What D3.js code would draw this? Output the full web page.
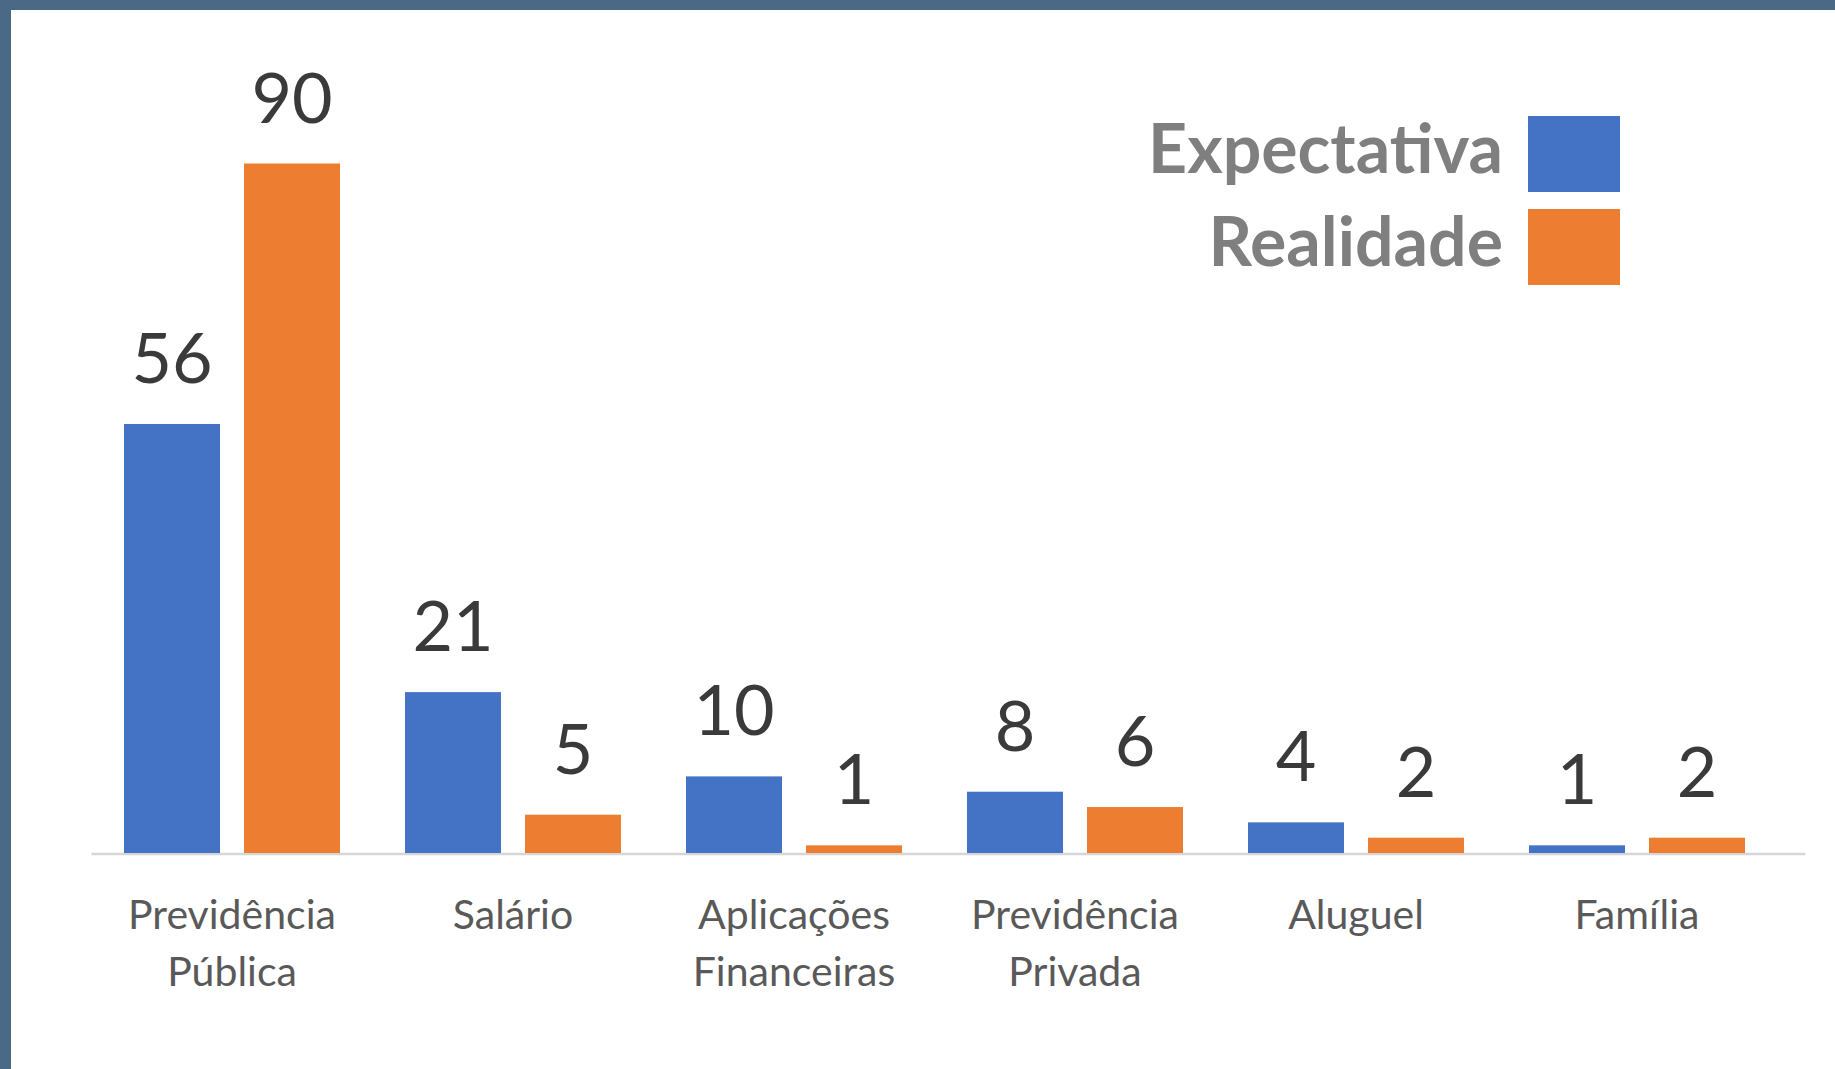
<!DOCTYPE html>
<html>
<head>
<meta charset="utf-8">
<script src="https://cdn.jsdelivr.net/npm/d3@7"></script>
<style>
  html, body { margin: 0; padding: 0; background: #4a6986; overflow: hidden; }
  svg { display: block; }
</style>
</head>
<body>
<svg id="canvas"></svg>
<script>
const categories = [["Previdência", "Pública"], ["Salário"], ["Aplicações", "Financeiras"], ["Previdência", "Privada"], ["Aluguel"], ["Família"]];
const seriesNames = ["Expectativa", "Realidade"];
const expectativa = [56, 21, 10, 8, 4, 1];
const realidade = [90, 5, 1, 6, 2, 2];
const colors = ["#4472C4", "#ED7D31"];

const width = 1835, height = 1069;
const svg = d3.select("#canvas").attr("width", width).attr("height", height);

// blue textured frame showing on top and left
svg.append("rect").attr("width", width).attr("height", height).attr("fill", "#4a6986");
svg.append("rect").attr("x", 11).attr("y", 10).attr("width", width - 11).attr("height", height - 10).attr("fill", "#ffffff");

const data = categories.map((c, i) => ({ key: i, label: c, values: [expectativa[i], realidade[i]] }));

const x0 = d3.scaleBand().domain(d3.range(categories.length)).range([91.5, 1777.5]).padding(0);
const x1 = d3.scaleBand().domain([0, 1]).range([32.5, x0.bandwidth() - 32.5]).paddingInner(0.2).paddingOuter(0);
const y = d3.scaleLinear().domain([0, 90]).range([853, 163.5]);

// baseline
svg.append("line")
  .attr("x1", x0.range()[0]).attr("x2", x0.range()[1] + 28)
  .attr("y1", y(0) + 1).attr("y2", y(0) + 1)
  .attr("stroke", "#d6d6d6").attr("stroke-width", 2.5);

const groups = svg.selectAll("g.group")
  .data(data)
  .enter()
  .append("g")
  .attr("class", "group")
  .attr("transform", (d) => `translate(${x0(d.key)},0)`);

groups.selectAll("rect")
  .data((d) => d.values.map((v, j) => ({ j, v })))
  .enter()
  .append("rect")
  .attr("x", (d) => x1(d.j))
  .attr("y", (d) => y(d.v))
  .attr("width", x1.bandwidth())
  .attr("height", (d) => y(0) - y(d.v))
  .attr("fill", (d) => colors[d.j]);

// value labels
groups.selectAll("text.val")
  .data((d) => d.values.map((v, j) => ({ j, v })))
  .enter()
  .append("text")
  .attr("class", "val")
  .attr("x", (d) => x1(d.j) + x1.bandwidth() / 2)
  .attr("y", (d) => y(d.v) - 41)
  .attr("text-anchor", "middle")
  .attr("font-family", "Lato, 'Open Sans', sans-serif")
  .attr("font-size", 70)
  .attr("fill", "#3a3a3a")
  .text((d) => d.v);

// category labels
groups.each(function (d) {
  const t = d3.select(this).append("text")
    .attr("text-anchor", "middle")
    .attr("font-family", "Lato, 'Open Sans', sans-serif")
    .attr("font-size", 41)
    .attr("fill", "#595959");
  d.label.forEach((line, k) => {
    t.append("tspan")
      .attr("x", x0.bandwidth() / 2)
      .attr("y", 929 + k * 57)
      .text(line);
  });
});

// legend
const legend = svg.append("g").attr("transform", "translate(1528,116)");
seriesNames.forEach((name, i) => {
  const row = legend.append("g").attr("transform", `translate(0,${i * 93})`);
  row.append("rect").attr("width", 92).attr("height", 76).attr("fill", colors[i]);
  row.append("text")
    .attr("x", -25)
    .attr("y", 57)
    .attr("text-anchor", "end")
    .attr("font-family", "Lato, 'Open Sans', sans-serif")
    .attr("font-weight", "bold")
    .attr("font-size", 68)
    .attr("fill", "#7f7f7f")
    .text(name);
});
</script>
</body>
</html>
